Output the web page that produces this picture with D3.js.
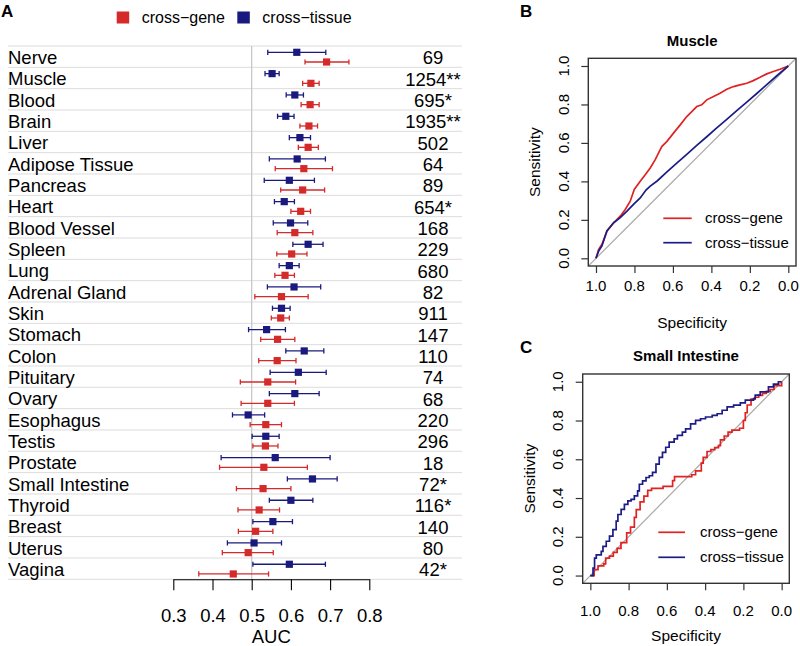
<!DOCTYPE html>
<html><head><meta charset="utf-8">
<script src="https://cdn.jsdelivr.net/npm/d3@7"></script>
<style>body{margin:0;background:#fff} svg text{font-family:"Liberation Sans",Arial,Helvetica,sans-serif;fill:#000}</style>
</head><body><svg id="c" width="800" height="646"></svg>
<script>
// ---------- Panel A data ----------
const tissues = ["Nerve","Muscle","Blood","Brain","Liver","Adipose Tissue","Pancreas","Heart","Blood Vessel","Spleen","Lung","Adrenal Gland","Skin","Stomach","Colon","Pituitary","Ovary","Esophagus","Testis","Prostate","Small Intestine","Thyroid","Breast","Uterus","Vagina"];
const nLabels = ["69","1254**","695*","1935**","502","64","89","654*","168","229","680","82","911","147","110","74","68","220","296","18","72*","116*","140","80","42*"];
const geneAUC = [0.691,0.651,0.649,0.646,0.644,0.633,0.630,0.625,0.610,0.602,0.585,0.576,0.574,0.566,0.565,0.541,0.541,0.536,0.535,0.531,0.529,0.519,0.510,0.491,0.453];
const geneLo  = [0.636,0.630,0.626,0.623,0.619,0.560,0.574,0.600,0.565,0.564,0.559,0.508,0.550,0.523,0.518,0.471,0.473,0.496,0.503,0.418,0.461,0.465,0.466,0.425,0.365];
const geneHi  = [0.748,0.672,0.672,0.668,0.670,0.706,0.686,0.650,0.656,0.641,0.609,0.644,0.596,0.610,0.613,0.612,0.609,0.576,0.567,0.642,0.600,0.571,0.554,0.555,0.543];
const tissueAUC = [0.615,0.552,0.610,0.587,0.623,0.616,0.596,0.583,0.599,0.644,0.596,0.608,0.576,0.538,0.634,0.619,0.610,0.491,0.536,0.560,0.655,0.600,0.554,0.506,0.596];
const tissueLo  = [0.541,0.534,0.588,0.566,0.596,0.545,0.532,0.558,0.555,0.605,0.570,0.540,0.553,0.492,0.587,0.547,0.545,0.451,0.501,0.422,0.591,0.545,0.503,0.438,0.503];
const tissueHi  = [0.689,0.570,0.632,0.608,0.650,0.688,0.660,0.609,0.643,0.682,0.621,0.676,0.598,0.586,0.684,0.690,0.672,0.533,0.570,0.700,0.718,0.656,0.604,0.576,0.688];
const aucTicks = [0.3,0.4,0.5,0.6,0.7,0.8];
const seriesNames = ["cross-gene","cross-tissue"];

// ---------- ROC data: [specificity, sensitivity] ----------
const rocTicks = [1.0,0.8,0.6,0.4,0.2,0.0];
const muscleGene = [[1,0],[0.986,0.047],[0.969,0.073],[0.943,0.142],[0.908,0.185],[0.874,0.219],[0.848,0.254],[0.822,0.297],[0.801,0.358],[0.770,0.401],[0.744,0.435],[0.718,0.470],[0.692,0.513],[0.666,0.565],[0.657,0.582],[0.631,0.608],[0.597,0.651],[0.562,0.694],[0.528,0.737],[0.502,0.763],[0.476,0.789],[0.450,0.798],[0.424,0.824],[0.389,0.841],[0.355,0.858],[0.320,0.879],[0.285,0.893],[0.251,0.902],[0.216,0.910],[0.182,0.924],[0.147,0.941],[0.112,0.959],[0.078,0.971],[0.043,0.983],[0,1]];
const muscleTissue = [[1,0],[0.986,0.038],[0.969,0.064],[0.943,0.142],[0.908,0.185],[0.874,0.211],[0.839,0.245],[0.805,0.280],[0.770,0.314],[0.740,0.355],[0.718,0.375],[0.682,0.402],[0.631,0.449],[0.580,0.495],[0.528,0.541],[0.476,0.587],[0.424,0.632],[0.372,0.678],[0.320,0.722],[0.268,0.768],[0.216,0.812],[0.164,0.857],[0.112,0.903],[0.061,0.948],[0,1]];
const siGene = [[1,0],[0.98,0.03],[0.96,0.05],[0.93,0.06],[0.92,0.09],[0.90,0.10],[0.88,0.12],[0.86,0.14],[0.84,0.17],[0.82,0.17],[0.81,0.22],[0.79,0.25],[0.78,0.25],[0.77,0.30],[0.76,0.34],[0.74,0.38],[0.72,0.41],[0.70,0.44],[0.68,0.45],[0.64,0.45],[0.62,0.46],[0.58,0.46],[0.57,0.49],[0.56,0.51],[0.50,0.51],[0.47,0.52],[0.45,0.54],[0.43,0.54],[0.42,0.58],[0.41,0.61],[0.39,0.64],[0.37,0.65],[0.35,0.66],[0.33,0.67],[0.32,0.70],[0.30,0.72],[0.28,0.74],[0.26,0.75],[0.22,0.76],[0.20,0.80],[0.19,0.84],[0.18,0.88],[0.16,0.91],[0.14,0.92],[0.12,0.93],[0.10,0.94],[0.08,0.95],[0.06,0.96],[0.04,0.98],[0,1]];
const siTissue = [[1,0],[0.986,0.038],[0.978,0.090],[0.969,0.107],[0.943,0.125],[0.934,0.151],[0.917,0.177],[0.900,0.203],[0.882,0.237],[0.865,0.281],[0.856,0.315],[0.839,0.341],[0.822,0.367],[0.804,0.385],[0.787,0.393],[0.770,0.411],[0.753,0.437],[0.744,0.471],[0.727,0.489],[0.709,0.506],[0.692,0.515],[0.675,0.532],[0.657,0.575],[0.640,0.610],[0.623,0.636],[0.606,0.662],[0.588,0.688],[0.562,0.705],[0.545,0.723],[0.519,0.740],[0.502,0.757],[0.476,0.783],[0.450,0.801],[0.424,0.809],[0.398,0.818],[0.363,0.827],[0.337,0.835],[0.311,0.853],[0.285,0.870],[0.251,0.879],[0.216,0.891],[0.190,0.905],[0.147,0.913],[0.138,0.931],[0.112,0.948],[0.069,0.974],[0.043,0.988],[0.017,1.0],[0,1]];

const RED = "#d42a2a", BLUE = "#1a1a7e", LRED = "#e02222", LBLUE = "#1c1c86";
const svg = d3.select("#c");

// ================= Panel A =================
const gA = svg.append("g");
const x = d3.scaleLinear().domain([0.3,0.8]).range([173.3,369.3]);
const rows = d3.scaleBand().domain(tissues).range([46,579.3]);
const rh = rows.bandwidth();

gA.append("text").attr("x",1).attr("y",17).attr("font-size",17).attr("font-weight","bold").text("A");

// legend
const legA = [{n:seriesNames[0],c:RED,x:116.7},{n:seriesNames[1],c:BLUE,x:237.3}];
legA.forEach(l=>{
  gA.append("rect").attr("x",l.x).attr("y",11.5).attr("width",12.5).attr("height",12).attr("fill",l.c);
  gA.append("text").attr("x",l.x+25).attr("y",23).attr("font-size",16).text(l.n.replace("-","\u2212"));
});

// row separators
gA.selectAll("line.row").data(tissues.concat(["_end"])).join("line")
  .attr("x1",8).attr("x2",462)
  .attr("y1",(d,i)=>46+i*rh).attr("y2",(d,i)=>46+i*rh)
  .attr("stroke","#dcdcdc").attr("stroke-width",1);
// reference line at 0.5
gA.append("line").attr("x1",x(0.5)).attr("x2",x(0.5)).attr("y1",46).attr("y2",579.3).attr("stroke","#c4c4c4").attr("stroke-width",1.2);

// labels
gA.selectAll("text.tis").data(tissues).join("text").attr("class","tis")
  .attr("x",8).attr("y",d=>rows(d)+rh/2+7.3).attr("font-size",18.5).text(d=>d);
gA.selectAll("text.n").data(nLabels).join("text").attr("class","n")
  .attr("x",433).attr("text-anchor","middle").attr("y",(d,i)=>rows(tissues[i])+rh/2+7.8).attr("font-size",18.5).text(d=>d);

// error bars
const ser = [
  {auc:tissueAUC, lo:tissueLo, hi:tissueHi, c:BLUE, off:6.3},
  {auc:geneAUC, lo:geneLo, hi:geneHi, c:RED, off:16}
];
ser.forEach(s=>{
  const g = gA.append("g");
  tissues.forEach((t,i)=>{
    const yy = rows(t)+s.off;
    g.append("line").attr("x1",x(s.lo[i])).attr("x2",x(s.hi[i])).attr("y1",yy).attr("y2",yy).attr("stroke",s.c).attr("stroke-width",1.3);
    [s.lo[i],s.hi[i]].forEach(v=>g.append("line").attr("x1",x(v)).attr("x2",x(v)).attr("y1",yy-2.6).attr("y2",yy+2.6).attr("stroke",s.c).attr("stroke-width",1.3));
    g.append("rect").attr("x",x(s.auc[i])-3.6).attr("y",yy-3.6).attr("width",7.2).attr("height",7.2).attr("fill",s.c);
  });
});

// axis
const axA = gA.append("g").attr("transform","translate(0,579.3)")
  .call(d3.axisBottom(x).tickValues(aucTicks).tickSize(11).tickSizeOuter(0).tickPadding(18.3).tickFormat(d3.format(".1f")));
axA.selectAll("text").attr("font-size",18.5).attr("font-family",null);
axA.selectAll("line,path").attr("stroke","#000").attr("stroke-width",1.1);
gA.append("text").attr("x",x(0.55)).attr("y",643).attr("text-anchor","middle").attr("font-size",18.5).text("AUC");

// ================= ROC panels =================
function drawROC(cfg){
  const g = svg.append("g");
  const xs = d3.scaleLinear().domain([1.04,-0.04]).range([cfg.l,cfg.r]);
  const ys = d3.scaleLinear().domain([-0.04,1.04]).range([cfg.b,cfg.t]);
  const cid = "clip"+cfg.letter;
  g.append("clipPath").attr("id",cid).append("rect").attr("x",cfg.l).attr("y",cfg.t).attr("width",cfg.r-cfg.l).attr("height",cfg.b-cfg.t);
  g.append("text").attr("x",520).attr("y",cfg.letterY).attr("font-size",17).attr("font-weight","bold").text(cfg.letter);
  g.append("text").attr("x",(cfg.l+cfg.r)/2).attr("y",cfg.titleY).attr("text-anchor","middle").attr("font-size",15).attr("font-weight","bold").text(cfg.title);
  const pg = g.append("g").attr("clip-path",`url(#${cid})`);
  pg.append("line").attr("x1",xs(1.04)).attr("y1",ys(-0.04)).attr("x2",xs(-0.04)).attr("y2",ys(1.04)).attr("stroke","#a8a8a8").attr("stroke-width",1.2);
  const line = d3.line().x(d=>xs(d[0])).y(d=>ys(d[1])).curve(cfg.curve);
  pg.append("path").datum(cfg.gene).attr("d",line).attr("fill","none").attr("stroke",LRED).attr("stroke-width",1.7);
  pg.append("path").datum(cfg.tissue).attr("d",line).attr("fill","none").attr("stroke",LBLUE).attr("stroke-width",1.7);
  g.append("rect").attr("x",cfg.l).attr("y",cfg.t).attr("width",cfg.r-cfg.l).attr("height",cfg.b-cfg.t).attr("fill","none").attr("stroke","#333").attr("stroke-width",1.4);
  // x axis
  const ax = g.append("g").attr("transform",`translate(0,${cfg.b})`)
    .call(d3.axisBottom(xs).tickValues(rocTicks).tickSize(7).tickFormat(""));
  ax.select(".domain").remove();
  ax.selectAll("line").attr("stroke","#333").attr("stroke-width",1.2);
  g.selectAll(null).data(rocTicks).join("text").attr("x",d=>xs(d)).attr("y",cfg.xLabY).attr("text-anchor","middle").attr("font-size",15).text(d3.format(".1f"));
  // y axis
  const ay = g.append("g").attr("transform",`translate(${cfg.l},0)`)
    .call(d3.axisLeft(ys).tickValues(rocTicks).tickSize(7).tickFormat(""));
  ay.select(".domain").remove();
  ay.selectAll("line").attr("stroke","#333").attr("stroke-width",1.2);
  g.selectAll(null).data(rocTicks).join("text").attr("transform",d=>`translate(${cfg.yLabX},${ys(d)}) rotate(-90)`).attr("text-anchor","middle").attr("font-size",15).text(d3.format(".1f"));
  g.append("text").attr("transform",`translate(${cfg.sensX},${(cfg.t+cfg.b)/2}) rotate(-90)`).attr("text-anchor","middle").attr("font-size",15.5).text("Sensitivity");
  g.append("text").attr("x",(cfg.l+cfg.r)/2).attr("y",cfg.specY).attr("text-anchor","middle").attr("font-size",15.5).text("Specificity");
  // legend
  [{n:seriesNames[0],c:LRED,y:cfg.legY[0]},{n:seriesNames[1],c:LBLUE,y:cfg.legY[1]}].forEach(l=>{
    g.append("line").attr("x1",cfg.legX[0]).attr("x2",cfg.legX[1]).attr("y1",l.y).attr("y2",l.y).attr("stroke",l.c).attr("stroke-width",1.7);
    g.append("text").attr("x",cfg.legX[2]).attr("y",l.y+5).attr("font-size",15).text(l.n.replace("-","\u2212"));
  });
}

drawROC({letter:"B",letterY:17,title:"Muscle",titleY:45.7,l:588.3,r:796,t:58.3,b:266,
  gene:muscleGene,tissue:muscleTissue,curve:d3.curveLinear,
  xLabY:291,yLabX:568.6,sensX:539.8,specY:328,legX:[663.3,691.7,705],legY:[218.3,242.7]});
drawROC({letter:"C",letterY:353,title:"Small Intestine",titleY:360.7,l:582.7,r:789.3,t:374,b:583.3,
  gene:siGene,tissue:siTissue,curve:d3.curveStepAfter,
  xLabY:615.5,yLabX:562.8,sensX:534.8,specY:641,legX:[658.3,685,700],legY:[532.3,557.3]});
</script></body></html>
